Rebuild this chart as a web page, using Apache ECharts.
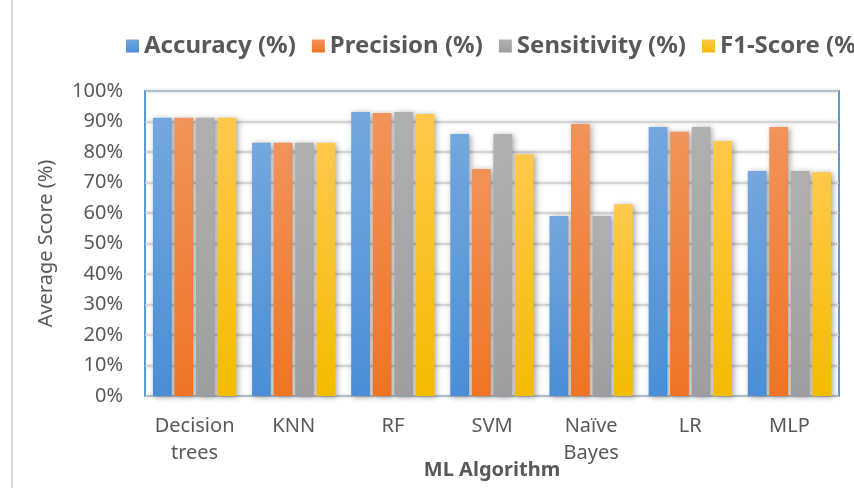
<!DOCTYPE html>
<html>
<head>
<meta charset="utf-8">
<script src="https://cdn.jsdelivr.net/npm/echarts@6/dist/echarts.min.js"></script>
<style>
  html, body { margin: 0; padding: 0; background: #fff; }
  #chart { width: 854px; height: 488px; }
</style>
</head>
<body>
<div id="chart"></div>
<script>
// data
const algorithms = ['Decision\ntrees', 'KNN', 'RF', 'SVM', 'Naïve\nBayes', 'LR', 'MLP'];
const accuracy = [91.2, 83.0, 93.1, 85.9, 59.0, 88.2, 73.8];
const precision = [91.2, 83.0, 92.8, 74.4, 89.2, 86.6, 88.2];
const sensitivity = [91.2, 83.0, 93.1, 85.9, 59.0, 88.2, 73.8];
const f1Score = [91.2, 83.0, 92.5, 79.3, 62.9, 83.6, 73.4];

const FONT = '"Noto Sans", "Open Sans", sans-serif';
const TEXT = '#595959';

function grad(top, bottom) {
  return new echarts.graphic.LinearGradient(0, 0, 0, 1, [
    { offset: 0, color: top },
    { offset: 1, color: bottom }
  ]);
}

function barSeries(name, data, top, bottom) {
  return {
    name: name,
    type: 'bar',
    data: data,
    barGap: '15%',
    barCategoryGap: '16%',
    itemStyle: {
      color: grad(top, bottom),
      shadowColor: 'rgba(0,0,0,0.35)',
      shadowBlur: 6,
      shadowOffsetX: 2,
      shadowOffsetY: 1
    }
  };
}

const chart = echarts.init(document.getElementById('chart'));
chart.setOption({
  animation: false,
  textStyle: { fontFamily: FONT },
  legend: {
    left: 121,
    top: 29,
    width: 1000,
    itemWidth: 13,
    itemHeight: 13,
    itemGap: 16,
    icon: 'rect',
    textStyle: { fontFamily: FONT, fontSize: 24, fontWeight: 'bold', color: TEXT }
  },
  grid: {
    left: 145,
    right: 15,
    top: 91,
    bottom: 92,
    outerBoundsMode: 'none',
    show: true,
    borderColor: '#5b9bd5',
    borderWidth: 2
  },
  xAxis: {
    type: 'category',
    data: algorithms,
    name: 'ML Algorithm',
    nameLocation: 'middle',
    nameGap: 64,
    nameMoveOverlap: false,
    nameTextStyle: { fontFamily: FONT, fontSize: 20, fontWeight: 'bold', color: TEXT },
    axisLine: { show: false },
    axisTick: { show: false },
    axisLabel: { interval: 0, fontFamily: FONT, fontSize: 20, color: TEXT, margin: 17, lineHeight: 27 }
  },
  yAxis: {
    type: 'value',
    min: 0,
    max: 100,
    interval: 10,
    name: 'Average Score (%)',
    nameLocation: 'middle',
    nameGap: 89,
    nameTextStyle: { fontFamily: FONT, fontSize: 20, color: TEXT },
    axisLine: { show: false },
    axisTick: { show: false },
    axisLabel: { fontFamily: FONT, fontSize: 20, color: TEXT, margin: 22, formatter: '{value}%' },
    splitLine: {
      lineStyle: { color: '#d0d0d0', width: 1.5, shadowColor: 'rgba(0,0,0,0.25)', shadowBlur: 3 }
    }
  },
  graphic: [
    { type: 'line', shape: { x1: 12, y1: 0, x2: 12, y2: 488 }, style: { stroke: '#d9d9d9', lineWidth: 2 } }
  ],
  series: [
    barSeries('Accuracy (%)', accuracy, '#74a7dd', '#4a8ed6'),
    barSeries('Precision (%)', precision, '#f2935a', '#ee7423'),
    barSeries('Sensitivity (%)', sensitivity, '#b0b0b0', '#9e9e9e'),
    barSeries('F1-Score (%)', f1Score, '#ffc84c', '#f4bc00')
  ]
});
</script>
</body>
</html>
